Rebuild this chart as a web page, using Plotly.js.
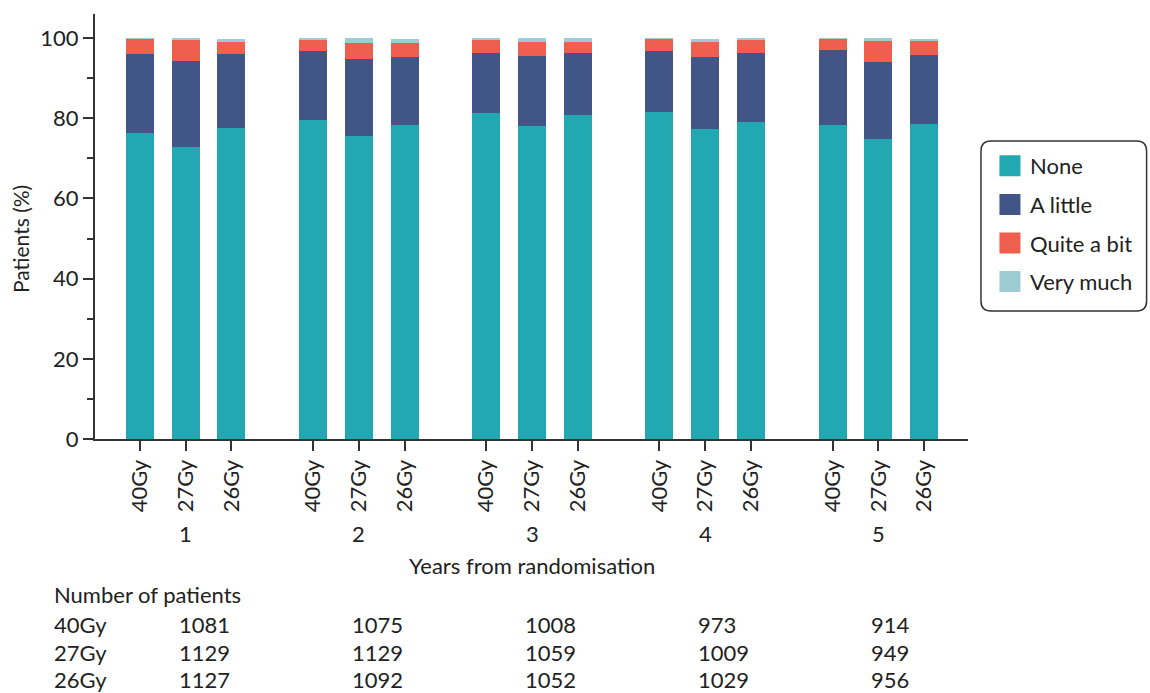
<!DOCTYPE html>
<html>
<head>
<meta charset="utf-8">
<script src="https://cdn.plot.ly/plotly-3.0.1.min.js"></script>
<style>
  html, body { margin: 0; padding: 0; background: #fff; }
  #chart { width: 1150px; height: 693px; }
</style>
</head>
<body>
<div id="chart"></div>
<script>
// ---- data ----
const years = ["1", "2", "3", "4", "5"];
const arms = ["40Gy", "27Gy", "26Gy"];
const responses = ["None", "A little", "Quite a bit", "Very much"];

// percentages, order: year1 [40,27,26], year2 [...], ...
const noneVals      = [76.3, 72.8, 77.6,  79.6, 75.6, 78.3,  81.3, 78.1, 80.8,  81.5, 77.3, 79.1,  78.3, 74.8, 78.6];
const aLittleVals   = [19.8, 21.5, 18.5,  17.2, 19.2, 17.0,  15.0, 17.4, 15.5,  15.3, 18.0, 17.2,  18.7, 19.2, 17.2];
const quiteABitVals = [ 3.7,  5.2,  2.9,   2.7,  4.0,  3.5,   3.2,  3.5,  2.7,   3.0,  3.7,  3.2,   2.8,  5.2,  3.4];
const veryMuchVals  = [ 0.2,  0.5,  0.8,   0.5,  1.2,  1.0,   0.5,  1.0,  1.0,   0.2,  0.8,  0.5,   0.2,  0.8,  0.6];

const nPatients40 = [1081, 1075, 1008, 973, 914];
const nPatients27 = [1129, 1129, 1059, 1009, 949];
const nPatients26 = [1127, 1092, 1052, 1029, 956];

const colors = ["#21A8B0", "#425587", "#EE5F4F", "#9DCCD2"];

// ---- layout helpers (positions only) ----
const groupGap = 0.783;
const xs = [], tickText = [];
years.forEach((y, g) => arms.forEach((a, i) => { xs.push(g * (arms.length + groupGap) + i); tickText.push(a); }));
const groupCenters = years.map((y, g) => g * (arms.length + groupGap) + (arms.length - 1) / 2);

const L = 95, R = 970, T = 14, B = 439;
const px2x = p => (p - L) / (R - L);
const py2y = p => (B - p) / (B - T);

const font = "Lato, 'Open Sans', sans-serif";
const txtColor = "#222222";
const lineColor = "#333333";

const seriesVals = [noneVals, aLittleVals, quiteABitVals, veryMuchVals];
const traces = [];
seriesVals.forEach((vals, k) => {
  traces.push({
    type: "bar", x: xs, y: vals, width: 0.61, name: responses[k],
    marker: { color: colors[k], line: { width: 0 } },
    showlegend: false, hoverinfo: "y+name"
  });
});
// legend entries
responses.forEach((r, k) => {
  traces.push({
    type: "scatter", mode: "markers", x: [null], y: [null], name: r,
    legendgroup: "g" + k,
    marker: { symbol: "square", size: 16, color: colors[k], line: { color: colors[k], width: 5 } },
    hoverinfo: "skip"
  });
});

const annotations = [];
const baseFont = { family: font, size: 22, color: txtColor };
years.forEach((y, g) => {
  annotations.push({ xref: "x", yref: "paper", x: groupCenters[g], y: 0, yshift: -94,
    text: y, showarrow: false, xanchor: "center", yanchor: "middle", font: baseFont });
});
annotations.push({ xref: "paper", yref: "paper", x: 0.5, y: 0, yshift: -126, text: "Years from randomisation",
  showarrow: false, xanchor: "center", yanchor: "middle", font: baseFont });
annotations.push({ xref: "paper", yref: "paper", x: 0, xshift: -75, y: py2y(239), text: "Patients (%)", textangle: -90,
  showarrow: false, xanchor: "center", yanchor: "middle", font: { family: font, size: 21, color: txtColor } });

// Number of patients table
annotations.push({ xref: "paper", yref: "paper", x: px2x(52), y: 0, yshift: -(594 - 439), text: "Number of patients",
  showarrow: false, xanchor: "left", yanchor: "middle", font: baseFont });
const rows = [["40Gy", nPatients40], ["27Gy", nPatients27], ["26Gy", nPatients26]];
const rowY = [624, 652, 679];
rows.forEach((row, r) => {
  annotations.push({ xref: "paper", yref: "paper", x: px2x(52), y: 0, yshift: -(rowY[r] - 439), text: row[0],
    showarrow: false, xanchor: "left", yanchor: "middle", font: baseFont });
  row[1].forEach((n, g) => {
    annotations.push({ xref: "x", yref: "paper", x: groupCenters[g], xshift: -9, y: 0, yshift: -(rowY[r] - 439),
      text: String(n), showarrow: false, xanchor: "left", yanchor: "middle", font: baseFont });
  });
});

// rounded legend box
const bx0 = 983, bx1 = 1149, by0 = 141, by1 = 311, rad = 10;
const P = (x, y) => px2x(x).toFixed(5) + "," + py2y(y).toFixed(5);
const boxPath = "M" + P(bx0 + rad, by0) + " L" + P(bx1 - rad, by0) + " Q" + P(bx1, by0) + " " + P(bx1, by0 + rad) +
  " L" + P(bx1, by1 - rad) + " Q" + P(bx1, by1) + " " + P(bx1 - rad, by1) +
  " L" + P(bx0 + rad, by1) + " Q" + P(bx0, by1) + " " + P(bx0, by1 - rad) +
  " L" + P(bx0, by0 + rad) + " Q" + P(bx0, by0) + " " + P(bx0 + rad, by0) + " Z";

const layout = {
  width: 1150, height: 693,
  margin: { l: L, r: 1150 - R, t: T, b: 693 - B, pad: 0 },
  paper_bgcolor: "#ffffff", plot_bgcolor: "#ffffff",
  barmode: "stack",
  font: baseFont,
  showlegend: true,
  legend: {
    x: px2x(992), y: py2y(145), xanchor: "left", yanchor: "top",
    font: { family: font, size: 22, color: txtColor },
    bgcolor: "rgba(0,0,0,0)", borderwidth: 0,
    traceorder: "grouped", tracegroupgap: 7
  },
  xaxis: {
    range: [-0.98, 18.09], tickmode: "array", tickvals: xs, ticktext: tickText, tickangle: -90,
    ticks: "outside", ticklen: 10, tickwidth: 2, tickcolor: lineColor,
    showline: true, linecolor: lineColor, linewidth: 2, showgrid: false, zeroline: false,
    tickfont: baseFont, fixedrange: true
  },
  yaxis: {
    range: [0, 106], tick0: 0, dtick: 20, ticks: "outside", ticklen: 10, tickwidth: 2, tickcolor: lineColor,
    minor: { dtick: 10, ticks: "outside", ticklen: 6, tickwidth: 2, tickcolor: lineColor },
    showline: true, linecolor: lineColor, linewidth: 2, showgrid: false, zeroline: false,
    tickfont: baseFont, fixedrange: true
  },
  shapes: [{ type: "path", xref: "paper", yref: "paper", path: boxPath, line: { color: "#333333", width: 1.5 }, fillcolor: "rgba(0,0,0,0)" }],
  annotations: annotations
};

Plotly.newPlot("chart", traces, layout, { displayModeBar: false, staticPlot: true });
</script>
</body>
</html>
